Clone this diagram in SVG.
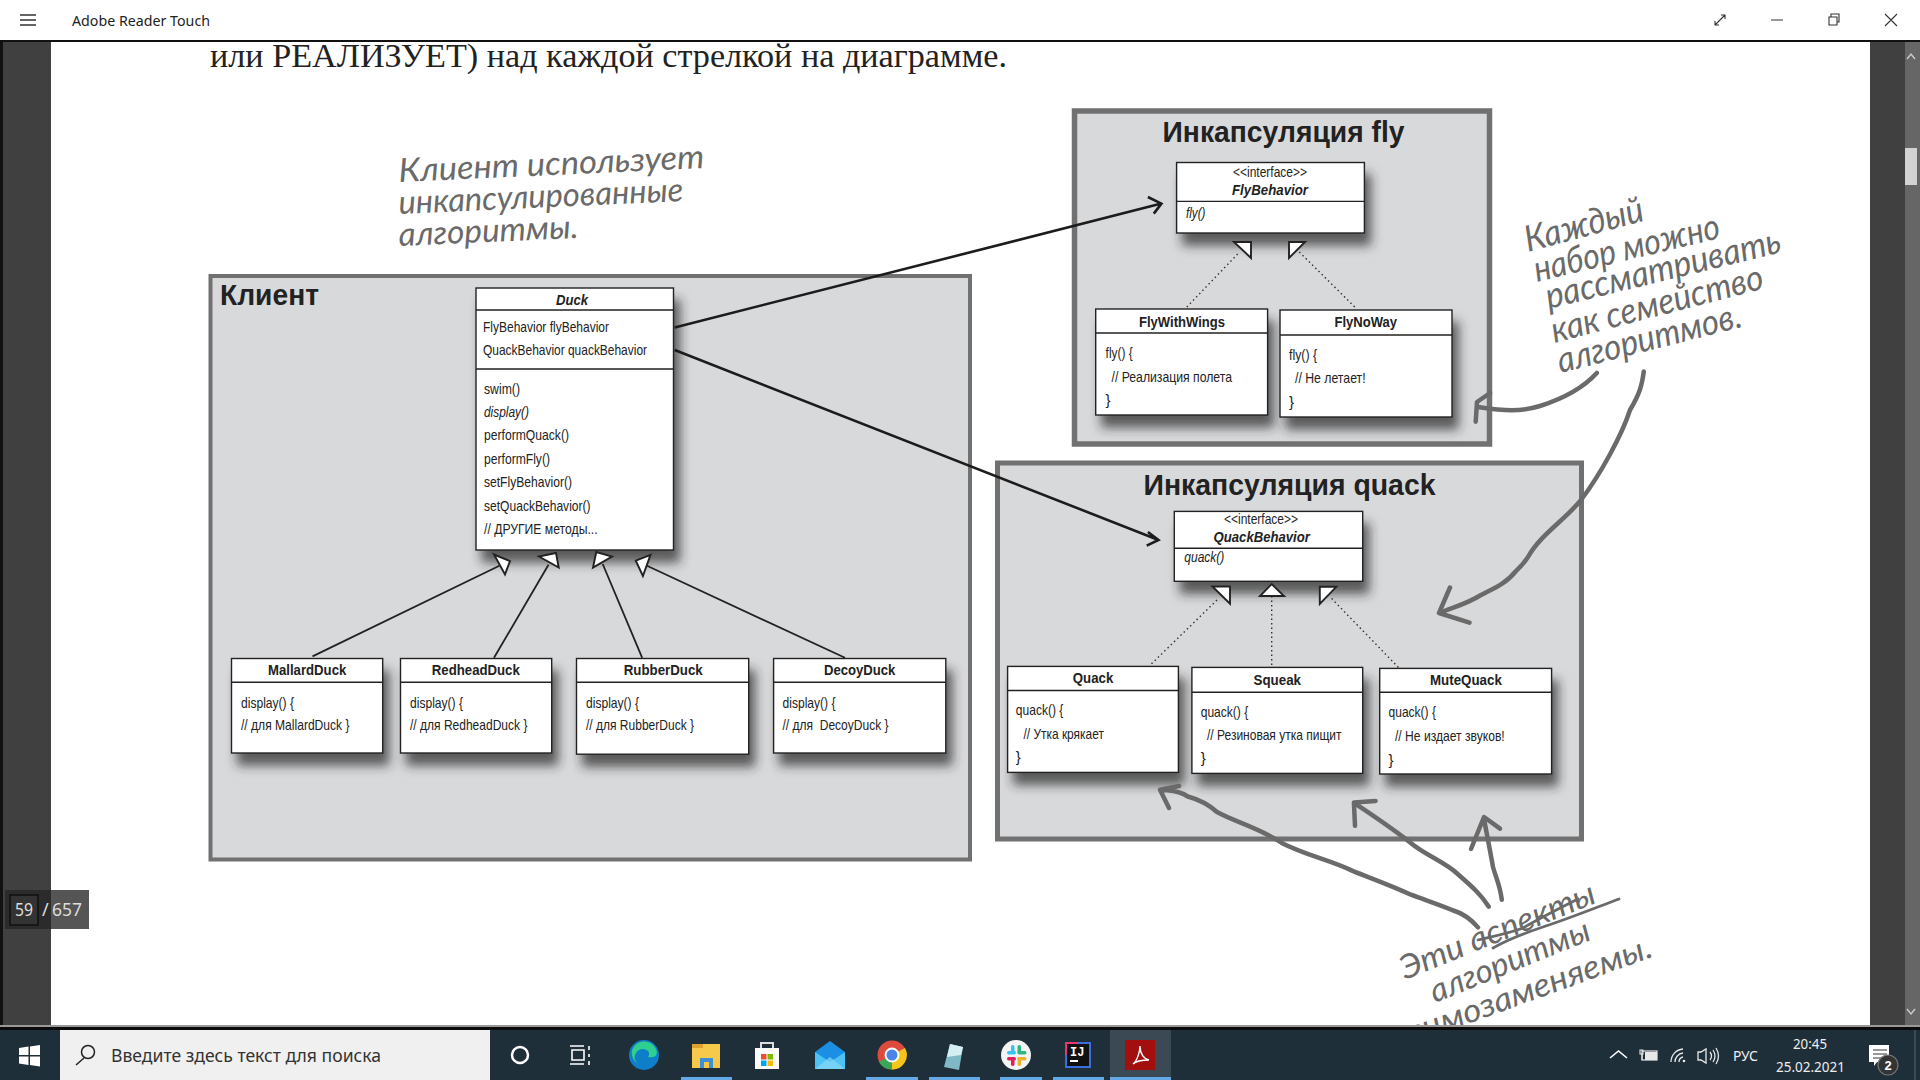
<svg xmlns="http://www.w3.org/2000/svg" width="1920" height="1080" viewBox="0 0 1920 1080">
<style>
.u{font-family:"Liberation Sans",Arial,sans-serif;font-size:15px;fill:#222}
.i{font-style:italic}
.b{font-weight:700}
.box{fill:#fff;stroke:#222;stroke-width:1.4}
.div{stroke:#222;stroke-width:1.4;fill:none}
.grp{fill:#d8d9db;stroke:#717171}
.h{font-family:"Liberation Sans",Arial,sans-serif;font-weight:700;font-size:29px;fill:#222}
.hw{font-family:"Lato","Open Sans",sans-serif;font-style:italic;font-weight:400;fill:#6a6a6a;font-size:33px}
.tri{fill:#fff;stroke:#222;stroke-width:1.9;stroke-linejoin:miter}
.sol{stroke:#222;stroke-width:1.8;fill:none}
.dot{stroke:#333;stroke-width:1.4;stroke-dasharray:1.5 3;fill:none}
.blk{stroke:#1c1c1c;stroke-width:2.6;fill:none}
.pen{stroke:#6a6a6a;stroke-width:4.5;fill:none;stroke-linecap:round;stroke-linejoin:round}
.ui{font-family:"Noto Sans","Open Sans",sans-serif}
.tb{stroke:#fff;stroke-width:1.6;fill:none}
.tr{stroke:#e8e8e8;stroke-width:1.3;fill:none}
.blue{fill:#63a9e6}
</style>
<defs>
<filter id="sh" x="-20%" y="-20%" width="150%" height="160%"><feDropShadow dx="6" dy="12" stdDeviation="5.500" flood-color="#2c2c2c" flood-opacity="0.72"/></filter>
</defs>

<rect width="1920" height="1080" fill="#fff"/>
<g id="window-frame">
<rect x="0" y="42" width="51" height="985" fill="#404040"/>
<rect x="0" y="42" width="3" height="985" fill="#111"/>
<rect x="1870" y="42" width="50" height="985" fill="#404040"/>
<rect x="1905" y="42" width="15" height="985" fill="#666"/>
<rect x="1905" y="148" width="12" height="37" fill="#d2d2d2"/>
<path d="M1907 59l4-5 4 5M1907 1009l4 5 4-5" fill="none" stroke="#ccc" stroke-width="1.400"/>
<rect x="0" y="40" width="1920" height="2" fill="#111"/>
</g>
<g id="titlebar">
<path d="M20 15h16M20 20h16M20 25h16" stroke="#333" stroke-width="1.300" fill="none"/>
<text class="ui" x="72" y="25.500" font-size="14.500" fill="#222" textLength="138" lengthAdjust="spacingAndGlyphs">Adobe Reader Touch</text>
<path d="M1715 25l10-10M1721 15h4v4M1715 21v4h4M1771 20h12M1829 17h8v8h-8zM1831 17v-3h8v8h-2M1885 14l12 12M1897 14l-12 12" stroke="#333" stroke-width="1.100" fill="none"/>
</g>
<text id="page-heading" x="210" y="67" font-family="Liberation Serif, serif" font-size="33" fill="#222" textLength="797" lengthAdjust="spacingAndGlyphs">или РЕАЛИЗУЕТ) над каждой стрелкой на диаграмме.</text>

<g id="note-client">
<text class="hw" transform="translate(399,182) rotate(-2.600)" textLength="306" lengthAdjust="spacingAndGlyphs">Клиент использует</text>
<text class="hw" transform="translate(399,214) rotate(-2.600)" textLength="285" lengthAdjust="spacingAndGlyphs">инкапсулированные</text>
<text class="hw" transform="translate(399,246) rotate(-2.600)" textLength="180" lengthAdjust="spacingAndGlyphs">алгоритмы.</text>
</g>

<g id="group-client">
<rect class="grp" x="210.500" y="276" width="759.500" height="583.500" stroke-width="4"/>
<text class="h" x="220" y="304.500" textLength="99" lengthAdjust="spacingAndGlyphs">Клиент</text>
</g>
<g id="group-fly">
<rect class="grp" x="1074.500" y="111" width="415" height="333" stroke-width="5.500"/>
<text class="h" x="1162.500" y="142" textLength="242" lengthAdjust="spacingAndGlyphs">Инкапсуляция fly</text>
</g>
<g id="group-quack">
<rect class="grp" x="997.500" y="463" width="584" height="376" stroke-width="5"/>
<text class="h" x="1143.500" y="495" textLength="292" lengthAdjust="spacingAndGlyphs">Инкапсуляция quack</text>
</g>

<g id="node-Duck">
<rect class="box" x="476" y="288" width="197.500" height="262" filter="url(#sh)"/>
<path class="div" d="M476 310h197.500M476 369h197.500"/>
<text class="u b i" x="556" y="305" textLength="32" lengthAdjust="spacingAndGlyphs">Duck</text>
<text class="u" x="483" y="332" textLength="126" lengthAdjust="spacingAndGlyphs">FlyBehavior flyBehavior</text>
<text class="u" x="483" y="354.600" textLength="164" lengthAdjust="spacingAndGlyphs">QuackBehavior quackBehavior</text>
<text class="u" x="484" y="394" textLength="36" lengthAdjust="spacingAndGlyphs">swim()</text>
<text class="u i" x="484" y="417" textLength="45" lengthAdjust="spacingAndGlyphs">display()</text>
<text class="u" x="484" y="440" textLength="85" lengthAdjust="spacingAndGlyphs">performQuack()</text>
<text class="u" x="484" y="463.600" textLength="66" lengthAdjust="spacingAndGlyphs">performFly()</text>
<text class="u" x="484" y="487" textLength="88" lengthAdjust="spacingAndGlyphs">setFlyBehavior()</text>
<text class="u" x="484" y="510.700" textLength="106.600" lengthAdjust="spacingAndGlyphs">setQuackBehavior()</text>
<text class="u" x="484" y="534" textLength="113.600" lengthAdjust="spacingAndGlyphs">// ДРУГИЕ методы...</text>
</g>

<g id="node-MallardDuck">
<rect class="box" x="231.500" y="658.500" width="151.200" height="94.500" filter="url(#sh)"/>
<path class="div" d="M231.500 682.200h151.200"/>
<text class="u b" x="268" y="675.300" textLength="78.300" lengthAdjust="spacingAndGlyphs">MallardDuck</text>
<text class="u" x="241" y="707.700" textLength="53" lengthAdjust="spacingAndGlyphs">display() {</text>
<text class="u" x="241" y="730.400" textLength="108.500" lengthAdjust="spacingAndGlyphs">// для MallardDuck }</text>
</g>
<g id="node-RedheadDuck">
<rect class="box" x="400.500" y="658.500" width="151.200" height="94.500" filter="url(#sh)"/>
<path class="div" d="M400.500 682.200h151.200"/>
<text class="u b" x="431.800" y="675.300" textLength="88" lengthAdjust="spacingAndGlyphs">RedheadDuck</text>
<text class="u" x="410" y="707.700" textLength="53" lengthAdjust="spacingAndGlyphs">display() {</text>
<text class="u" x="410" y="730.400" textLength="117.400" lengthAdjust="spacingAndGlyphs">// для RedheadDuck }</text>
</g>
<g id="node-RubberDuck">
<rect class="box" x="576.500" y="658.500" width="172.200" height="95.700" filter="url(#sh)"/>
<path class="div" d="M576.500 682.200h172.200"/>
<text class="u b" x="623.700" y="675.300" textLength="79" lengthAdjust="spacingAndGlyphs">RubberDuck</text>
<text class="u" x="586" y="707.700" textLength="53" lengthAdjust="spacingAndGlyphs">display() {</text>
<text class="u" x="586" y="730.400" textLength="108" lengthAdjust="spacingAndGlyphs">// для RubberDuck }</text>
</g>
<g id="node-DecoyDuck">
<rect class="box" x="773.600" y="658.500" width="172.200" height="94.500" filter="url(#sh)"/>
<path class="div" d="M773.600 682.200h172.200"/>
<text class="u b" x="824" y="675.300" textLength="71.400" lengthAdjust="spacingAndGlyphs">DecoyDuck</text>
<text class="u" x="782.500" y="707.700" textLength="53" lengthAdjust="spacingAndGlyphs">display() {</text>
<text class="u" x="782.500" y="730.400" textLength="106" lengthAdjust="spacingAndGlyphs" xml:space="preserve">// для  DecoyDuck }</text>
</g>

<g id="node-FlyBehavior">
<rect class="box" x="1176.600" y="162.500" width="187.800" height="70.500" filter="url(#sh)"/>
<path class="div" d="M1176.600 201.400h187.800"/>
<text class="u" x="1233" y="177" textLength="74" lengthAdjust="spacingAndGlyphs">&lt;&lt;interface&gt;&gt;</text>
<text class="u b i" x="1232" y="194.600" textLength="76" lengthAdjust="spacingAndGlyphs">FlyBehavior</text>
<text class="u i" x="1186" y="218" textLength="19.400" lengthAdjust="spacingAndGlyphs">fly()</text>
</g>
<g id="node-FlyWithWings">
<rect class="box" x="1095.700" y="309" width="171.900" height="106" filter="url(#sh)"/>
<path class="div" d="M1095.700 333h171.900"/>
<text class="u b" x="1139" y="327" textLength="86" lengthAdjust="spacingAndGlyphs">FlyWithWings</text>
<text class="u" x="1105.600" y="358" textLength="27" lengthAdjust="spacingAndGlyphs">fly() {</text>
<text class="u" x="1111.500" y="382" textLength="120.500" lengthAdjust="spacingAndGlyphs">// Реализация полета</text>
<text class="u" x="1105.600" y="405">}</text>
</g>
<g id="node-FlyNoWay">
<rect class="box" x="1280" y="310" width="172" height="107" filter="url(#sh)"/>
<path class="div" d="M1280 335h172"/>
<text class="u b" x="1334.500" y="327" textLength="62.500" lengthAdjust="spacingAndGlyphs">FlyNoWay</text>
<text class="u" x="1289" y="360" textLength="28" lengthAdjust="spacingAndGlyphs">fly() {</text>
<text class="u" x="1295" y="383" textLength="70.600" lengthAdjust="spacingAndGlyphs">// Не летает!</text>
<text class="u" x="1289" y="407">}</text>
</g>

<g id="node-QuackBehavior">
<rect class="box" x="1174.300" y="511.400" width="188.400" height="69.900" filter="url(#sh)"/>
<path class="div" d="M1174.300 548.300h188.400"/>
<text class="u" x="1224" y="524.300" textLength="74" lengthAdjust="spacingAndGlyphs">&lt;&lt;interface&gt;&gt;</text>
<text class="u b i" x="1213.600" y="541.800" textLength="96.300" lengthAdjust="spacingAndGlyphs">QuackBehavior</text>
<text class="u i" x="1184.300" y="562.400" textLength="40" lengthAdjust="spacingAndGlyphs">quack()</text>
</g>
<g id="node-Quack">
<rect class="box" x="1007.600" y="666.400" width="170.800" height="106" filter="url(#sh)"/>
<path class="div" d="M1007.600 690.500h170.800"/>
<text class="u b" x="1072.800" y="683" textLength="40.500" lengthAdjust="spacingAndGlyphs">Quack</text>
<text class="u" x="1015.800" y="714.600" textLength="47.600" lengthAdjust="spacingAndGlyphs">quack() {</text>
<text class="u" x="1023.500" y="738.700" textLength="80.400" lengthAdjust="spacingAndGlyphs">// Утка крякает</text>
<text class="u" x="1015.800" y="762">}</text>
</g>
<g id="node-Squeak">
<rect class="box" x="1191.900" y="667.400" width="170.800" height="106" filter="url(#sh)"/>
<path class="div" d="M1191.900 692.200h170.800"/>
<text class="u b" x="1253.500" y="685.300" textLength="47.500" lengthAdjust="spacingAndGlyphs">Squeak</text>
<text class="u" x="1200.700" y="716.700" textLength="47.500" lengthAdjust="spacingAndGlyphs">quack() {</text>
<text class="u" x="1207" y="739.700" textLength="134.500" lengthAdjust="spacingAndGlyphs">// Резиновая утка пищит</text>
<text class="u" x="1200.700" y="763">}</text>
</g>
<g id="node-MuteQuack">
<rect class="box" x="1379.700" y="668.400" width="171.900" height="105.600" filter="url(#sh)"/>
<path class="div" d="M1379.700 692.200h171.900"/>
<text class="u b" x="1430" y="685.300" textLength="71.800" lengthAdjust="spacingAndGlyphs">MuteQuack</text>
<text class="u" x="1388.500" y="716.700" textLength="47.500" lengthAdjust="spacingAndGlyphs">quack() {</text>
<text class="u" x="1395" y="740.800" textLength="109.700" lengthAdjust="spacingAndGlyphs">// Не издает звуков!</text>
<text class="u" x="1388.500" y="764.500">}</text>
</g>

<g id="connectors">
<path class="sol" d="M312.500 656.400L499.400 565.800M494 657.800L548.500 564.800M642.200 657.800L602.700 564M845 657.800L647 565.800"/>
<polygon class="tri" points="494,554.500 510,561 505,574.400"/>
<polygon class="tri" points="539,556.500 556,553 558.700,567.500"/>
<polygon class="tri" points="593,567.500 596.300,552 612,556.500"/>
<polygon class="tri" points="635.800,560.700 650.500,554.800 642.900,576"/>
<path class="dot" d="M1237.700 254L1184.900 309M1299.300 252L1356.800 309"/>
<polygon class="tri" points="1234,242 1251,242 1251,258"/>
<polygon class="tri" points="1289,242 1305,242 1289,258"/>
<path class="dot" d="M1217 600L1149.600 665.700M1271.700 596V668M1331.600 598.500L1399 668"/>
<polygon class="tri" points="1212.400,586.500 1230,586.500 1230,603.700"/>
<polygon class="tri" points="1260,596 1284,596 1271.700,584"/>
<polygon class="tri" points="1319.800,586.800 1336.300,586.800 1319.800,604"/>
<path class="blk" d="M674.700 327.500L1161.400 203.600M1147.900 197L1161.400 203.600L1153.800 213.600"/>
<path class="blk" d="M674.700 350L1158.500 540M1147.900 532L1158.500 540L1146.700 545.700"/>
<path class="pen" d="M1596.800 373C1585 386 1565 398 1540 406C1520 412 1505 411 1478 407M1490 393L1477 402L1475.700 421.700"/>
<path class="pen" d="M1643.800 371.400C1642 385 1640 393 1630 410C1622 435 1600 475 1581 500C1565 520 1540 535 1528 557C1522 566 1517 570 1516 571C1505 585 1490 590 1481 595C1465 605 1450 608 1440 613M1450 587.500L1439 613L1469.500 622.600"/>
<path class="pen" d="M1478 927.400C1470 918 1462 913 1452 910C1440 905 1425 900 1411 894.700C1390 885 1370 878 1352 870.600C1330 860 1305 855 1281.700 843C1260 828 1235 822 1217 812C1207 803 1197 799 1187.800 796.500C1178 790 1170 791 1161.400 789.700M1179 786L1160 789.700L1169 808"/>
<path class="pen" d="M1488.800 906.700C1480 893 1470 885 1457.700 874C1445 862 1425 855 1410.800 843C1392 828 1372 815 1355 803.400M1375.600 801L1353.900 802.400L1355 825.800"/>
<path class="pen" d="M1501.800 899.800C1500 885 1496 878 1493 867C1490 850 1487 835 1484 819M1471 849L1484 817L1500 828.600"/>
</g>

<g id="note-family">
<text class="hw" style="font-size:36px" transform="translate(1528,252) rotate(-15)" textLength="122" lengthAdjust="spacingAndGlyphs">Каждый</text>
<text class="hw" style="font-size:36px" transform="translate(1537,282) rotate(-13.500)" textLength="190" lengthAdjust="spacingAndGlyphs">набор можно</text>
<text class="hw" style="font-size:36px" transform="translate(1548.700,309) rotate(-13.700)" textLength="241" lengthAdjust="spacingAndGlyphs">рассматривать</text>
<text class="hw" style="font-size:36px" transform="translate(1554.600,343) rotate(-14.600)" textLength="218" lengthAdjust="spacingAndGlyphs">как семейство</text>
<text class="hw" style="font-size:36px" transform="translate(1560.400,373) rotate(-14.200)" textLength="189" lengthAdjust="spacingAndGlyphs">алгоритмов.</text>
</g>
<g id="note-swap">
<text class="hw" transform="translate(1405,980) rotate(-22)" textLength="208" lengthAdjust="spacingAndGlyphs">Эти аспекты</text>
<path class="pen" style="stroke-width:2.800" d="M1493 948C1510 938 1525 933 1540 928C1565 920 1595 908 1619 899"/>
<path class="pen" style="stroke-width:2.800" d="M1478 940C1495 936 1510 933 1523 928C1540 918 1560 908 1578 899"/>
<text class="hw" transform="translate(1435,1003) rotate(-22)" textLength="170" lengthAdjust="spacingAndGlyphs">алгоритмы</text>
<text class="hw" transform="translate(1380,1056) rotate(-20)" textLength="292" lengthAdjust="spacingAndGlyphs">взаимозаменяемы.</text>
</g>

<g id="page-indicator">
<rect x="5" y="890" width="84" height="39" fill="#555"/>
<rect x="5" y="890" width="46" height="39" fill="#2b2b2b"/>
<rect x="10" y="895" width="28" height="30" fill="#333" stroke="#111" stroke-width="1.500"/>
<text class="ui" x="15" y="916" font-size="18" fill="#ddd" textLength="18" lengthAdjust="spacingAndGlyphs">59</text>
<text class="ui" x="42" y="916" font-size="18" fill="#ddd">/</text>
<text class="ui" x="52" y="916" font-size="18" fill="#ddd" textLength="30" lengthAdjust="spacingAndGlyphs">657</text>
</g>

<g id="taskbar">
<rect x="0" y="1025" width="1920" height="2" fill="#999"/>
<rect x="0" y="1027" width="1920" height="3" fill="#0b0b0b"/>
<rect x="0" y="1030" width="1920" height="50" fill="#1f2f3a"/>
<path d="M19 1048l9.500-1.400v8.400h-9.500zM30 1046.400l10-1.400v10h-10zM19 1056.500h9.500v8.400l-9.500-1.400zM30 1056.500h10v10l-10-1.400z" fill="#fff"/>
<rect x="60" y="1030" width="430" height="50" fill="#f0f0f0"/>
<circle cx="88" cy="1052" r="6.500" fill="none" stroke="#222" stroke-width="1.500"/>
<path d="M84 1058l-8 7" stroke="#222" stroke-width="1.500"/>
<text class="ui" x="111" y="1062" font-size="18" fill="#333" textLength="270" lengthAdjust="spacingAndGlyphs">Введите здесь текст для поиска</text>
<circle cx="520" cy="1055" r="8" fill="none" stroke="#fff" stroke-width="2.500"/>
<path class="tb" d="M570 1046h14M572 1050h12v10h-12zM570 1064h14M589 1046v4M589 1054v3M589 1061v4" stroke-width="1.300"/>
<rect class="blue" x="681" y="1077" width="51" height="3"/>
<rect class="blue" x="866" y="1077" width="52" height="3"/>
<rect class="blue" x="929" y="1077" width="51" height="3"/>
<rect class="blue" x="1000" y="1077" width="42" height="3"/>
<rect class="blue" x="1053" y="1077" width="51" height="3"/>
<rect x="1110" y="1030" width="61" height="47" fill="#3a4954"/>
<rect class="blue" x="1110" y="1077" width="61" height="3"/>
<g id="icon-edge"><circle cx="644" cy="1055" r="15" fill="#0f7ec9"/><path d="M632 1050a13 13 0 0 1 25 2c0 5-5 6-9 5c4-5-3-10-9-7c-5 3-6 10-1 14c-4-2-7-8-6-14z" fill="#2ecf8f"/></g>
<g id="icon-explorer"><rect x="692" y="1044" width="28" height="24" fill="#f7c94b"/><rect x="692" y="1044" width="11" height="4" fill="#e0a12c"/><rect x="700" y="1058" width="13" height="10" fill="#3d8fd6"/><rect x="704" y="1062" width="5" height="6" fill="#f7c94b"/></g>
<g id="icon-store"><rect x="755" y="1048" width="24" height="21" fill="#fafafa"/><path d="M761 1048v-5h12v5" fill="none" stroke="#ddd" stroke-width="2"/><rect x="761" y="1054" width="5.500" height="5.500" fill="#e8512f"/><rect x="767.500" y="1054" width="5.500" height="5.500" fill="#7fba00"/><rect x="761" y="1060.500" width="5.500" height="5.500" fill="#00a4ef"/><rect x="767.500" y="1060.500" width="5.500" height="5.500" fill="#ffb900"/></g>
<g id="icon-mail"><path d="M815 1052l15-11l15 11v17h-30z" fill="#1a8fe3"/><path d="M815 1052l15 10l15-10v17h-30z" fill="#4cc2f5"/><path d="M815 1069l15-12l15 12z" fill="#8ad8fa" opacity=".7"/></g>
<g id="icon-chrome"><circle cx="892" cy="1055" r="14.500" fill="#dd4b3e"/><path d="M892 1055l-13 7a14.500 14.500 0 0 0 13 7.500z" fill="#3aa757"/><path d="M892 1055l13 -7a14.500 14.500 0 0 1 -13 21.500z" fill="#f5c518"/><circle cx="892" cy="1055" r="6.500" fill="#4a86e8" stroke="#fff" stroke-width="2"/></g>
<g id="icon-notes"><path d="M944 1067l6-23l13 3l-4 23z" fill="#7fb9c6"/><path d="M950 1044l13 3l-2 8l-14 2z" fill="#d4eef2"/></g>
<g id="icon-slack"><circle cx="1016" cy="1055" r="15" fill="#f4f4f4"/><rect x="1007" y="1051" width="9" height="3.500" rx="1.700" fill="#36c5f0"/><rect x="1011" y="1045" width="3.500" height="9" rx="1.700" fill="#36c5f0"/><rect x="1017.500" y="1045" width="3.500" height="9" rx="1.700" fill="#2eb67d"/><rect x="1017.500" y="1051" width="9" height="3.500" rx="1.700" fill="#2eb67d"/><rect x="1017.500" y="1057" width="9" height="3.500" rx="1.700" fill="#ecb22e"/><rect x="1017.500" y="1057" width="3.500" height="9" rx="1.700" fill="#ecb22e"/><rect x="1011" y="1057" width="3.500" height="9" rx="1.700" fill="#e01e5a"/><rect x="1007" y="1057" width="9" height="3.500" rx="1.700" fill="#e01e5a"/></g>
<g id="icon-intellij"><rect x="1066" y="1043" width="24" height="24" fill="#111" stroke="#3b6fe0" stroke-width="2"/><path d="M1066 1043h12M1066 1043v12" stroke="#e8366f" stroke-width="2"/><text x="1070" y="1056" font-family="Liberation Mono,monospace" font-weight="700" font-size="12" fill="#fff">IJ</text><rect x="1070" y="1060" width="8" height="2" fill="#fff"/></g>
<g id="icon-acrobat"><rect x="1125" y="1040" width="30" height="30" fill="#a30f0f"/><path d="M1133 1064c4-3 7-12 7-18c0 8 4 13 9 14c-5 0-12 0-16 4z" fill="none" stroke="#fff" stroke-width="1.400"/></g>
<g id="tray">
<path class="tb" d="M1610 1058l8.500-7l8.500 7" stroke-width="1.300"/>
<rect x="1642" y="1051" width="15" height="9" fill="none" stroke="#e8e8e8" stroke-width="1.200"/><rect x="1645" y="1052" width="12" height="8" fill="#e8e8e8"/><path d="M1640 1050v4h3v-4zM1642 1054v6" fill="none" stroke="#e8e8e8" stroke-width="1.100"/>
<path class="tr" d="M1671 1062a13 13 0 0 1 12-13M1675 1062a9 9 0 0 1 8-9M1679 1062a5 5 0 0 1 4-5"/><circle cx="1684" cy="1061" r="1.300" fill="#e8e8e8"/>
<path class="tr" d="M1698 1052h3l5-3v14l-5-3h-3zM1710 1052q3 4 0 8M1713 1050q4 6 0 12M1716 1048q5 8 0 16"/>
<text class="ui" x="1733" y="1061" font-size="14" fill="#eee" textLength="25" lengthAdjust="spacingAndGlyphs">РУС</text>
<text class="ui" x="1793" y="1049" font-size="15" fill="#eee" textLength="34" lengthAdjust="spacingAndGlyphs">20:45</text>
<text class="ui" x="1776" y="1072" font-size="15" fill="#eee" textLength="69" lengthAdjust="spacingAndGlyphs">25.02.2021</text>
<path d="M1869 1045h20v17h-12l-3 4v-4h-5z" fill="#fff"/>
<path d="M1873 1050h14M1873 1054h14M1873 1058h10" stroke="#333" stroke-width="1"/>
<circle cx="1888" cy="1065" r="10" fill="#333" stroke="#777" stroke-width="1.200"/>
<text x="1888" y="1070" font-family="Liberation Sans,sans-serif" font-weight="700" font-size="13" fill="#fff" text-anchor="middle">2</text>
<path d="M1915 1030v50" stroke="#5a6670" stroke-width="1"/>
</g>
</g>
</svg>
